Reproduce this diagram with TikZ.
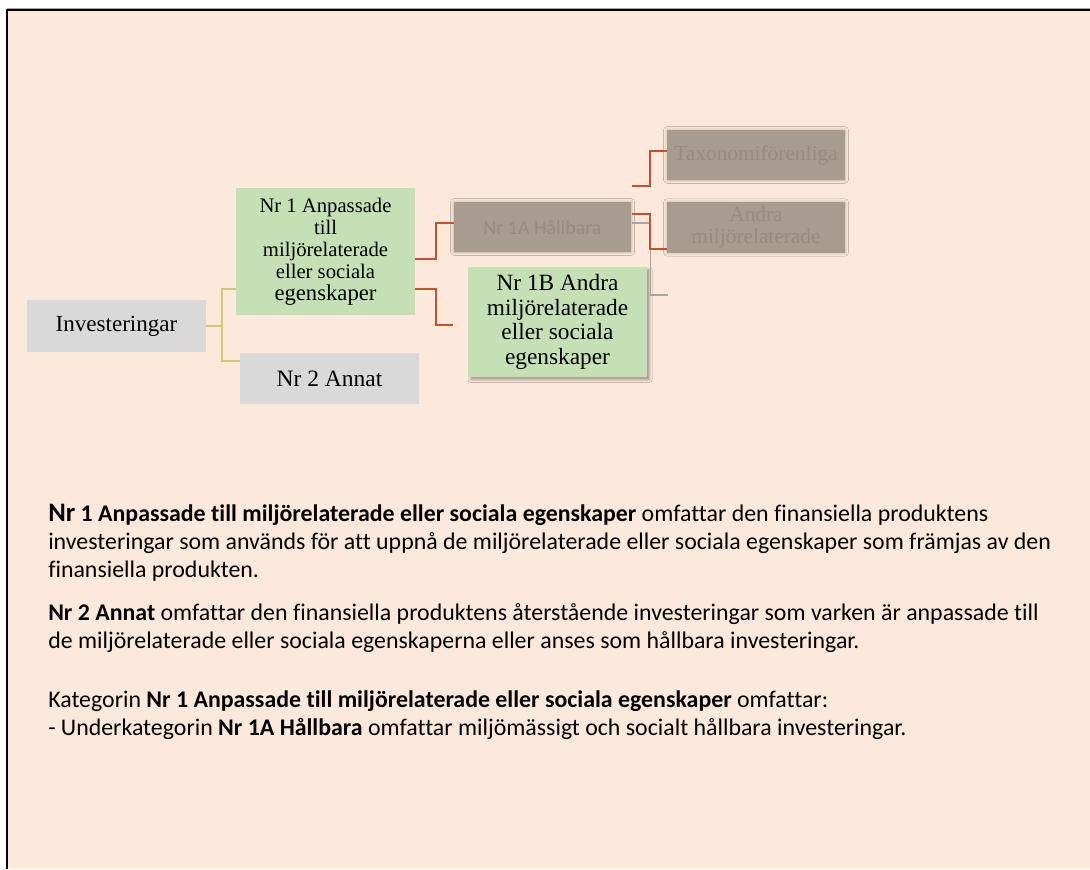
\documentclass[tikz,border=0pt]{standalone}
\usepackage{fontspec}
\setmainfont{Liberation Serif}
\newfontfamily\calibri[Ligatures={NoCommon}]{Carlito}
\usepackage{tikz}
\usetikzlibrary{calc,shadows.blur}

\definecolor{peach}{HTML}{FDE9DB}
\definecolor{boxgray}{HTML}{D9D9D9}
\definecolor{boxgreen}{HTML}{C5E0B4}
\definecolor{hazy}{HTML}{A89C90}
\definecolor{hazytext}{HTML}{978B80}
\definecolor{khaki}{HTML}{D4C47C}
\definecolor{rust}{HTML}{C8502F}
\definecolor{lightline}{HTML}{A6A6A6}

\tikzset{
  plainbox/.style={fill=boxgray, inner sep=0pt, align=center, text=black},
  greenbox/.style={fill=boxgreen, inner sep=0pt, align=center, text=black},
  hazybox/.style={fill=hazy, inner sep=0pt, align=center, text=hazytext,
    blur shadow={shadow xshift=0pt, shadow yshift=0pt, shadow blur radius=2.5pt, shadow opacity=25}},
  trunk/.style={draw=khaki, line width=1.5pt},
  branch/.style={draw=rust, line width=1.5pt},
  thinbranch/.style={draw=lightline, line width=1.1pt},
  bodyline/.style={anchor=base west, inner sep=0pt, font=\calibri\fontsize{17.9}{21}\selectfont}
}

\begin{document}
\begin{tikzpicture}[x=0.75pt, y=-0.75pt]
    % Frame
    \useasboundingbox (0,0) rectangle (1090,869);
    \fill[white] (0,0) rectangle (1090,869);
    \fill[peach] (7,10) rectangle (1090,869);
    \draw[lightline, line width=0.6pt] (7,8) -- (1090,8);
    \draw[black, line width=1.6pt] (7,869) -- (7,10) -- (1090,10);

    % Boxes
    \node[plainbox, minimum width=134pt, minimum height=39pt, font=\fontsize{17.3}{19}\selectfont] (inv) at (116.5,326) {Investeringar};
    \node[greenbox, minimum width=134pt, minimum height=95pt, font=\fontsize{15.5}{16.5}\selectfont] (nr1) at (325.5,251.5) {Nr 1 Anpassade\\till\\miljörelaterade\\eller sociala\\{\fontsize{17}{17}\selectfont egenskaper}};
    \node[plainbox, minimum width=134pt, minimum height=38pt, font=\fontsize{17.6}{19}\selectfont] (nr2) at (329.5,378.5) {Nr 2 Annat};
    \node[hazybox, minimum width=133pt, minimum height=37.5pt, font=\calibri\fontsize{15}{17}\selectfont] (hall) at (542.5,227) {Nr 1A Hållbara};
    \node[greenbox, minimum width=134pt, minimum height=82.5pt, font=\fontsize{17.5}{18.3}\selectfont,
      blur shadow={shadow xshift=2pt, shadow yshift=-2pt, shadow blur radius=2pt, shadow opacity=35}] (nr1b) at (557.5,322) {Nr 1B Andra\\miljörelaterade\\eller sociala\\egenskaper};
    \node[hazybox, minimum width=133.5pt, minimum height=37.5pt, font=\fontsize{16}{17}\selectfont] (taxo) at (756,155) {Taxonomiförenliga};
    \node[hazybox, minimum width=133.5pt, minimum height=38pt, font=\fontsize{16}{17}\selectfont] (andra) at (756,227.5) {Andra\\miljörelaterade};

    % Free ends
    \coordinate (r1end) at (453,325);
    \coordinate (r3start) at (632,186);
    \coordinate (gend) at (668,295);

    % Connectors
    \draw[trunk] (inv.east) -- ++(16,0) coordinate (kj)
      |- ($(nr1.west)+(0,37.5)$);
    \draw[trunk] (kj) |- ($(nr2.west)+(0,-17.5)$);
    \draw[branch] ($(nr1.east)+(0,7.5)$) -- ++(21,0) |- ($(hall.west)+(0,-4)$);
    \draw[branch] ($(nr1.east)+(0,37.5)$) -- ++(21,0) |- (r1end);
    \draw[branch] (r3start) -- ++(18,0) |- ($(taxo.west)+(0,-4)$);
    \draw[thinbranch] ($(hall.east)+(1,-4)$) -- ++(18,0) |- (gend);
    \draw[branch] ($(hall.east)+(1,-13)$) -- ++(18,0) |- ($(andra.west)+(0,21.5)$);

    % Explanation
    \node[bodyline] (t1) at (48,521) {\textbf{{\fontsize{20}{21}\selectfont Nr} 1 Anpassade till miljörelaterade eller sociala egenskaper} omfattar den finansiella produktens};
    \node[bodyline] (t2) at (48,549) {investeringar som används för att uppnå de miljörelaterade eller sociala egenskaper som främjas av den};
    \node[bodyline] (t3) at (48,577) {finansiella produkten.};
    \node[bodyline] (t4) at (48,620) {\textbf{Nr 2 Annat} omfattar den finansiella produktens återstående investeringar som varken är anpassade till};
    \node[bodyline] (t5) at (48,648) {de miljörelaterade eller sociala egenskaperna eller anses som hållbara investeringar.};
    \node[bodyline] (t6) at (48,707) {Kategorin \textbf{Nr 1 Anpassade till miljörelaterade eller sociala egenskaper} omfattar:};
    \node[bodyline] (t7) at (48,735) {- Underkategorin \textbf{Nr 1A Hållbara} omfattar miljömässigt och socialt hållbara investeringar.};
\end{tikzpicture}
\end{document}
